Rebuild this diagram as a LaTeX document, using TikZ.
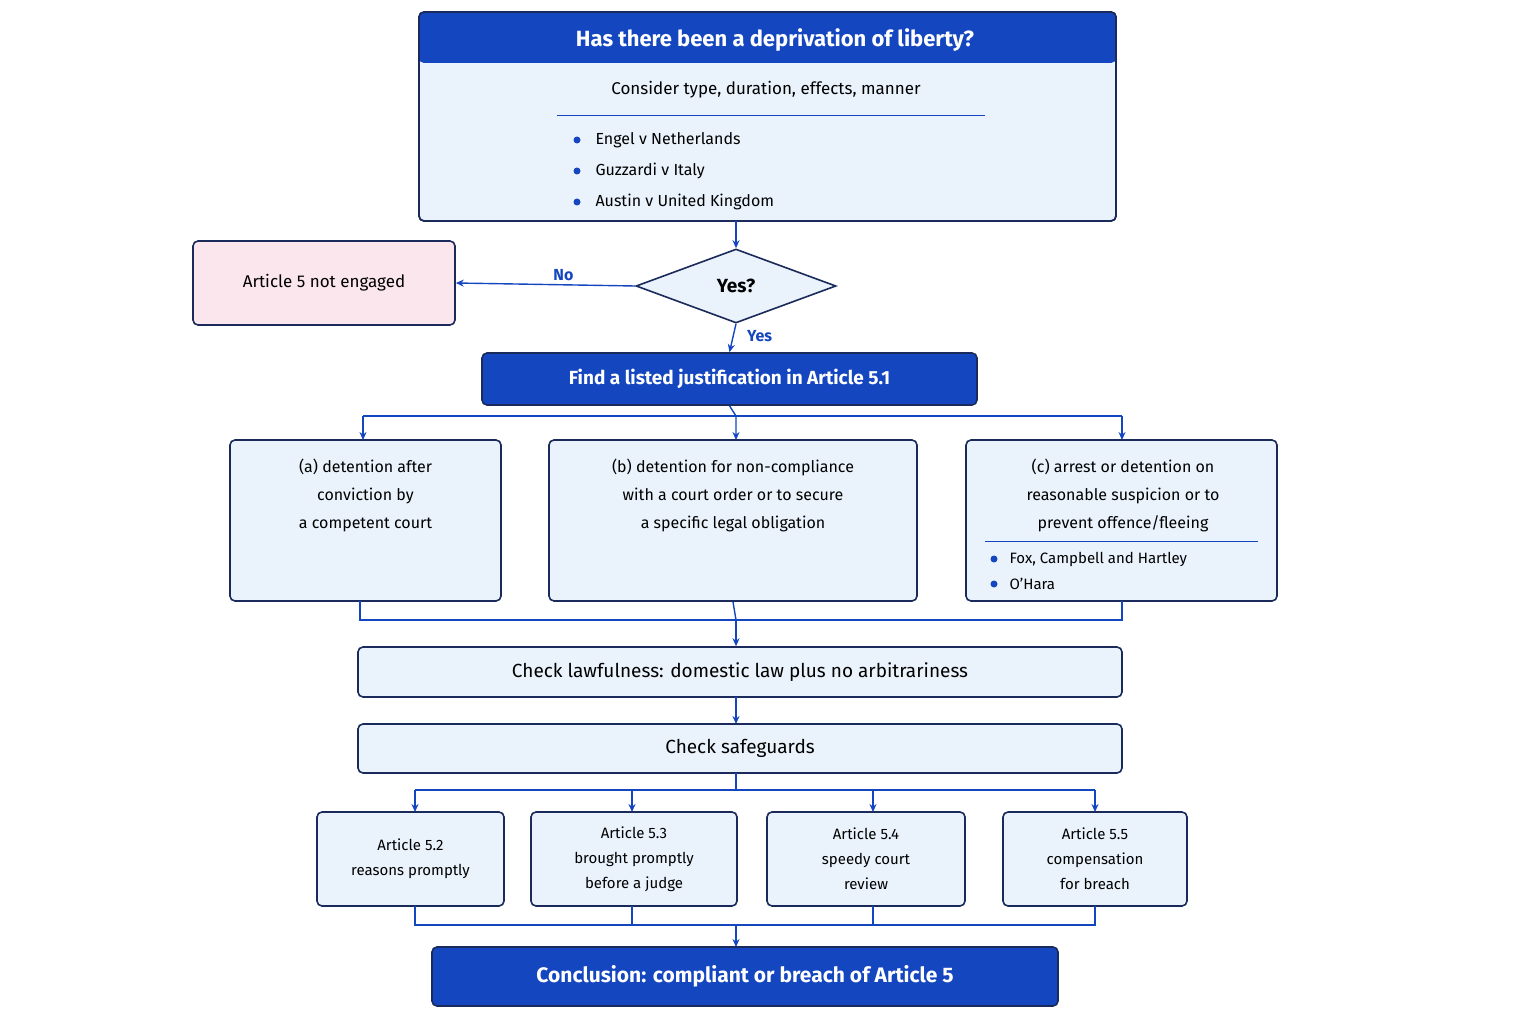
\documentclass[tikz,border=0pt]{standalone}
\usepackage{fontspec}
\setmainfont{Fira Sans}
\usetikzlibrary{arrows.meta,shapes.geometric}
\definecolor{hdr}{HTML}{1446C0}
\definecolor{edge}{HTML}{1A2A5A}
\definecolor{lite}{HTML}{EAF3FC}
\definecolor{pinkf}{HTML}{FCE6EE}
\definecolor{ln}{HTML}{1446C0}
\begin{document}
\begin{tikzpicture}[x=1pt,y=-1pt,
 box/.style={draw=edge,line width=1.6pt,fill=lite,rounded corners=5pt},
 dark/.style={draw=edge,line width=1.6pt,fill=hdr,rounded corners=5pt},
 con/.style={draw=ln,line width=1.4pt},
 arr/.style={con,-{Stealth[length=8pt,width=7pt]}},
 txt/.style={font=\fontsize{15}{19}\selectfont,align=center,text=black},
 dot/.style={circle,fill=hdr,inner sep=0pt,minimum size=7pt}]
\useasboundingbox (0,0) rectangle (1536,1024);
% top box
\draw[box] (419,12) rectangle (1116,221);
\path[fill=hdr,rounded corners=5pt] (419,12) -- (1116,12) -- (1116,63) -- (419,63) -- cycle;
\draw[edge,line width=1.6pt,rounded corners=5pt] (419,221) rectangle (1116,12);
\node[font=\fontsize{22}{26}\selectfont\bfseries,text=white] (t) at (775,40) {Has there been a deprivation of liberty?};
\node[txt,font=\fontsize{17}{20}\selectfont] (c) at (766,90) {Consider type, duration, effects, manner};
\draw[con,line width=1pt] (557,116) -- (985,116);
\foreach \y/\s in {140/Engel v Netherlands,171/Guzzardi v Italy,202/Austin v United Kingdom}{
 \node[dot] at (577,\y) {};
 \node[txt,font=\fontsize{16}{19}\selectfont,anchor=west] at (592,\y) {\s};}
% diamond
\node[diamond,draw=edge,line width=1.6pt,fill=lite,aspect=2.7,minimum width=200pt,minimum height=74pt,inner sep=0pt,font=\fontsize{19}{22}\selectfont\bfseries] (d) at (736,286) {Yes?};
\coordinate (tb) at (736,221);
\draw[arr] (tb) -- (d.north);
\node[box,fill=pinkf,minimum width=262pt,minimum height=84pt,txt,font=\fontsize{17}{20}\selectfont] (n) at (324,283) {Article 5 not engaged};
\draw[arr] (d.west) -- (n.east) node[pos=0.4,above,text=hdr,font=\fontsize{16}{19}\selectfont\bfseries] {No};
\node[dark,minimum width=495pt,minimum height=52pt,text=white,font=\fontsize{19}{22}\selectfont\bfseries] (f) at (729.5,379) {Find a listed justification in Article 5.1};
\draw[arr] (d.south) -- (f.north) node[pos=0.45,right=10pt,text=hdr,font=\fontsize{16}{19}\selectfont\bfseries] {Yes};
% three boxes
\node[box,minimum width=271pt,minimum height=161pt] (a) at (365.5,520.5) {};
\node[box,minimum width=368pt,minimum height=161pt] (b) at (733,520.5) {};
\node[box,minimum width=311pt,minimum height=161pt] (cc) at (1121.5,520.5) {};
\node[txt,font=\fontsize{16}{28}\selectfont] at (365.5,495) {(a) detention after\\conviction by\\a competent court};
\node[txt,font=\fontsize{16}{28}\selectfont] at (733,495) {(b) detention for non-compliance\\with a court order or to secure\\a specific legal obligation};
\node[txt,font=\fontsize{16}{28}\selectfont] at (1123,495) {(c) arrest or detention on\\reasonable suspicion or to\\prevent offence/fleeing};
\draw[con,line width=1pt] (985,541) -- (1258,541);
\node[dot] at (994,559) {}; \node[txt,anchor=west] at (1006,559) {Fox, Campbell and Hartley};
\node[dot] at (994,584) {}; \node[txt,anchor=west] at (1006,584) {O’Hara};
\coordinate (bt) at (736,416);
\draw[con] (363,416) -- (1122,416);
\draw[arr] (f.south) -- (bt) -- (736,440);
\draw[arr] (363,416) -- (363,440);
\draw[arr] (1122,416) -- (1122,440);
% lawfulness
\node[box,minimum width=764pt,minimum height=50pt,font=\fontsize{19}{22}\selectfont] (l) at (740,672) {Check lawfulness: domestic law plus no arbitrariness};
\draw[con] (360,601) -- (360,620) -- (1122,620) -- (1122,601);
\draw[con] (b.south) -- (736,620);
\draw[arr] (736,620) -- (l.north -| 736,0);
\node[box,minimum width=764pt,minimum height=49pt,font=\fontsize{19}{22}\selectfont] (s) at (740,748.5) {Check safeguards};
\draw[arr] (736,697) -- (736,724);
% four boxes
\node[box,minimum width=187pt,minimum height=94pt,txt,font=\fontsize{15}{25}\selectfont] (p) at (410.5,859) {Article 5.2\\reasons promptly};
\node[box,minimum width=206pt,minimum height=94pt,txt,font=\fontsize{15}{25}\selectfont] (q) at (634,859) {Article 5.3\\brought promptly\\before a judge};
\node[box,minimum width=198pt,minimum height=94pt,txt,font=\fontsize{15}{25}\selectfont] (r) at (866,859) {Article 5.4\\speedy court\\review};
\node[box,minimum width=184pt,minimum height=94pt,txt,font=\fontsize{15}{25}\selectfont] (u) at (1095,859) {Article 5.5\\compensation\\for breach};
\draw[con] (736,773) -- (736,790);
\draw[con] (415,790) -- (1095,790);
\foreach \x in {415,632,873,1095}{\draw[arr] (\x,790) -- (\x,812);}
\draw[con] (415,906) -- (415,925) -- (1095,925) -- (1095,906);
\draw[con] (632,906) -- (632,925); \draw[con] (873,906) -- (873,925);
\node[dark,minimum width=626pt,minimum height=59pt,text=white,font=\fontsize{21}{25}\selectfont\bfseries] (z) at (745,976.5) {Conclusion: compliant or breach of Article 5};
\draw[arr] (736,925) -- (736,947);
\end{tikzpicture}
\end{document}
